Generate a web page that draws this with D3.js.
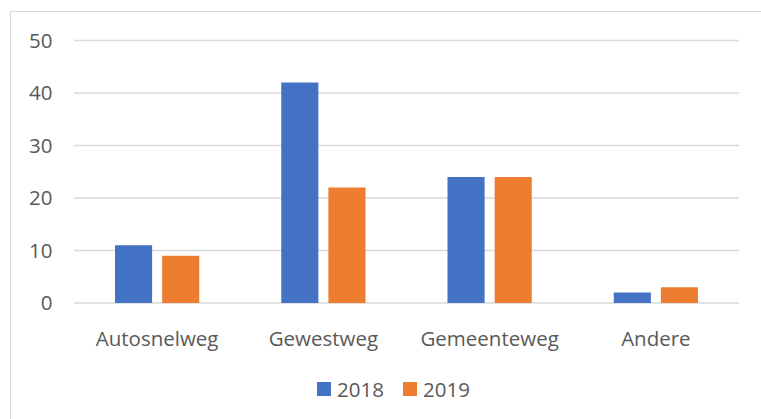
<!DOCTYPE html>
<html><head><meta charset="utf-8">
<script src="https://cdn.jsdelivr.net/npm/d3@7"></script>
<style>body{margin:0;background:#fff}svg{display:block}text{font-family:"Open Sans",sans-serif;fill:#595959}</style>
</head><body><svg id="c" width="761" height="419"></svg>
<script>
const categories = ["Autosnelweg","Gewestweg","Gemeenteweg","Andere"];
const seriesNames = ["2018","2019"];
const values2018 = [11,42,24,2];
const values2019 = [9,22,24,3];
const yTicks = [0,10,20,30,40,50];
const colors = ["#4472C4","#ED7D31"];
const FS = 20.5;

const svg = d3.select("#c");
svg.append("rect").attr("x",10.5).attr("y",11.5).attr("width",760).attr("height",420)
  .attr("fill","none").attr("stroke","#d9d9d9").attr("stroke-width",1);

const pL=74,pR=739,pT=40.5,pB=303;
const y = d3.scaleLinear().domain([0,50]).range([pB,pT]);
const x0 = d3.scaleBand().domain(categories).range([pL,pR]).padding(0);
const x1 = d3.scaleBand().domain(seriesNames).range([41, x0.bandwidth()-41]).paddingInner(0.213);

const g = svg.append("g");
g.selectAll("line.grid").data(yTicks).join("line").attr("class","grid")
  .attr("x1",pL).attr("x2",pR).attr("y1",d=>y(d)).attr("y2",d=>y(d))
  .attr("stroke","#d9d9d9").attr("stroke-width",1.5);

const yAxis = d3.axisLeft(y).tickValues(yTicks).tickSize(0).tickPadding(21.5);
const ya = svg.append("g").attr("transform",`translate(${pL},0)`).call(yAxis);
ya.select(".domain").remove();
ya.selectAll("text").attr("font-size",FS).style("font-family","'Open Sans',sans-serif").attr("fill","#595959");

const data = categories.map((c,i)=>({c, vals:[values2018[i],values2019[i]]}));
const grp = svg.selectAll("g.cat").data(data).join("g").attr("class","cat")
  .attr("transform",d=>`translate(${x0(d.c)},0)`);
grp.selectAll("rect").data(d=>d.vals.map((v,j)=>({s:seriesNames[j],v,j}))).join("rect")
  .attr("x",d=>x1(d.s)).attr("width",x1.bandwidth())
  .attr("y",d=>y(d.v)).attr("height",d=>y(0)-y(d.v)).attr("fill",d=>colors[d.j]);

const xAxis = d3.axisBottom(x0).tickSize(0).tickPadding(28);
const xa = svg.append("g").attr("transform",`translate(0,${pB})`).call(xAxis);
xa.select(".domain").remove();
xa.selectAll("text").attr("font-size",FS).style("font-family","'Open Sans',sans-serif").attr("fill","#595959");

const legX = [317,403];
const leg = svg.selectAll("g.leg").data(seriesNames).join("g").attr("class","leg")
  .attr("transform",(d,i)=>`translate(${legX[i]},382)`);
leg.append("rect").attr("width",14).attr("height",14).attr("fill",(d,i)=>colors[i]);
leg.append("text").attr("x",20).attr("y",14.5).attr("font-size",FS).text(d=>d);
</script></body></html>
